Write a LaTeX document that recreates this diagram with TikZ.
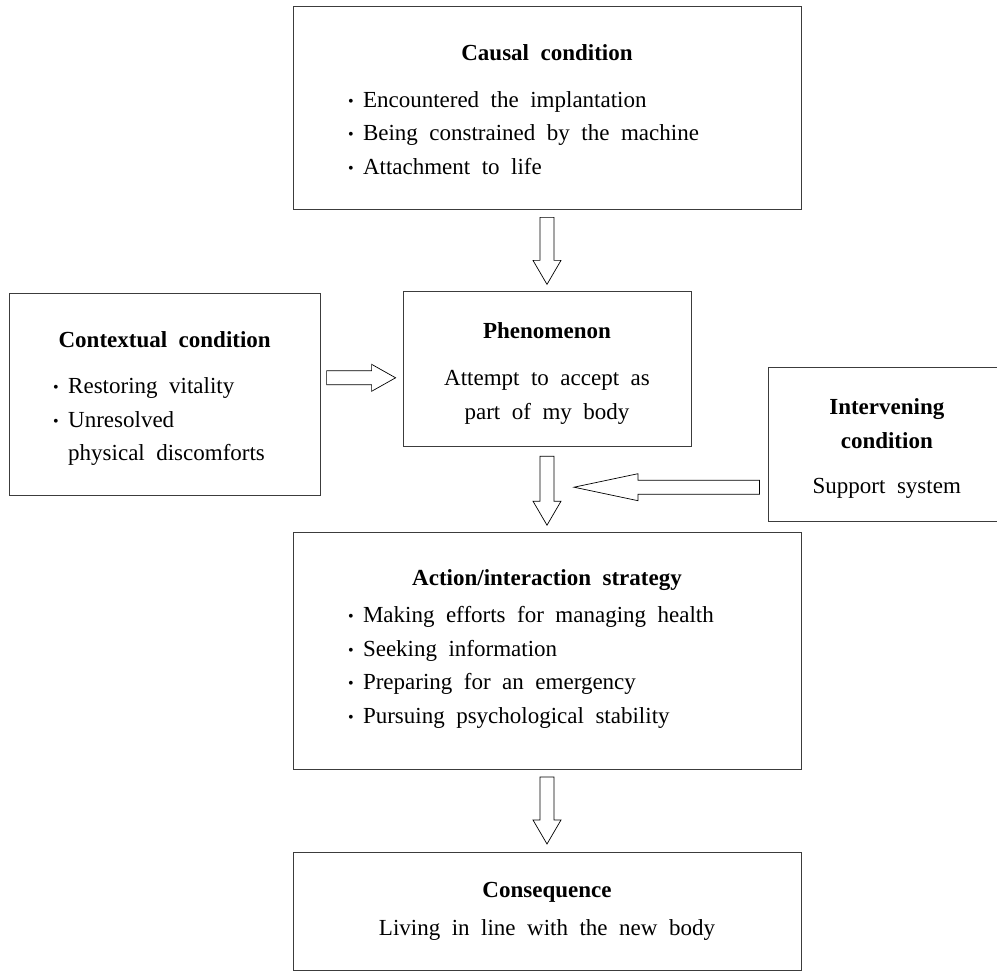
\documentclass[tikz,border=0pt]{standalone}
\usepackage{fontspec}
\setmainfont[WordSpace=2]{Liberation Serif}
\usetikzlibrary{positioning,calc}
\definecolor{boxBorder}{HTML}{3C3C3C}

\newcommand{\bul}{\makebox[15pt][l]{\raisebox{1pt}{\fontsize{16}{16}\selectfont\textbullet}}}
\newcommand{\ttl}[1]{{\bfseries #1}}
\newcommand{\itemlist}[2]{\makebox[#1][l]{\begin{tabular}[t]{@{}l@{}}#2\end{tabular}}}
\newcommand{\lift}[1]{\rule{0pt}{#1}}

% hollow block arrows (down, right, left)
\newcommand{\darrow}[2]{%
  \draw[blockarrow] let \p1=(#1), \p2=(#2) in
    (\x1-7pt,\y1) -- (\x1-7pt,\y2+24pt) -- (\x1-14pt,\y2+24pt) -- (\x1,\y2)
    -- (\x1+14pt,\y2+24pt) -- (\x1+7pt,\y2+24pt) -- (\x1+7pt,\y1) -- cycle;}
\newcommand{\rarrow}[2]{%
  \draw[blockarrow] let \p1=(#1), \p2=(#2) in
    (\x1,\y2+7pt) -- (\x2-24pt,\y2+7pt) -- (\x2-24pt,\y2+13.5pt) -- (\x2,\y2)
    -- (\x2-24pt,\y2-13.5pt) -- (\x2-24pt,\y2-7pt) -- (\x1,\y2-7pt) -- cycle;}
\newcommand{\larrow}[2]{%
  \draw[blockarrow] let \p1=(#1), \p2=(#2) in
    (\x1,\y2+7pt) -- (\x2+64pt,\y2+7pt) -- (\x2+64pt,\y2+13.5pt) -- (\x2,\y2)
    -- (\x2+64pt,\y2-13.5pt) -- (\x2+64pt,\y2-7pt) -- (\x1,\y2-7pt) -- cycle;}

\begin{document}
\begin{tikzpicture}[
    x=1pt, y=-1pt,
    box/.style={
        rectangle, draw=boxBorder, line width=0.8pt,
        inner sep=0pt, align=center,
        font=\fontsize{23}{33.5}\selectfont
    },
    blockarrow/.style={draw=black, line width=0.7pt, line join=miter}
]
  \useasboundingbox (0,0) rectangle (997,973);

  % Boxes
  \node[box, minimum width=508pt, minimum height=203pt] (causal) at (547,107.5)
      {\lift{30pt}\ttl{Causal condition}\\[13pt]
       \itemlist{398pt}{\bul Encountered the implantation\\
                        \bul Being constrained by the machine\\
                        \bul Attachment to life}};

  \node[box, minimum width=288pt, minimum height=155pt, below=82pt of causal] (phen)
      {\lift{24pt}\ttl{Phenomenon}\\[14pt]
       Attempt to accept as\\ part of my body};

  \node[box, minimum width=311pt, minimum height=202pt, left=82pt of phen, yshift=-25.5pt] (context)
      {\lift{28pt}\ttl{Contextual condition}\\[13pt]
       \itemlist{223pt}{\bul Restoring vitality\\
                        \bul Unresolved\\
                        \hspace*{15pt}physical discomforts}};

  \node[box, minimum width=236pt, minimum height=154pt, right=77pt of phen, yshift=-75.5pt] (interv)
      {\lift{24pt}\ttl{Intervening}\\ \ttl{condition}\\[12pt]
       Support system};

  \node[box, minimum width=508pt, minimum height=237pt, below=85pt of phen] (action)
      {\ttl{Action/interaction strategy}\\[4pt]
       \itemlist{398pt}{\bul Making efforts for managing health\\
                        \bul Seeking information\\
                        \bul Preparing for an emergency\\
                        \bul Pursuing psychological stability}};

  \node[box, minimum width=508pt, minimum height=118pt, below=82pt of action] (conseq)
      {\ttl{Consequence}\\[4pt]
       Living in line with the new body};

  % Arrow tips that end in free space
  \coordinate (ctxtip) at ($(phen.west)+(-7,8.5)$);
  \coordinate (intvtip) at ($(phen.south)+(27,40)$);

  % Flow arrows
  \darrow{$(causal.south)+(0,8)$}{$(phen.north)+(0,-7)$}
  \darrow{$(phen.south)+(0,9)$}{$(action.north)+(0,-7)$}
  \darrow{$(action.south)+(0,7)$}{$(conseq.north)+(0,-8)$}
  \rarrow{$(context.east |- ctxtip)+(6,0)$}{ctxtip}
  \larrow{$(interv.west |- intvtip)+(-9,0)$}{intvtip}

\end{tikzpicture}
\end{document}
